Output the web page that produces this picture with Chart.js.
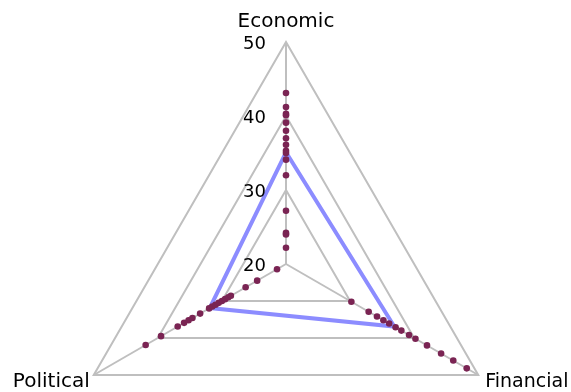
<!DOCTYPE html>
<html>
<head>
<meta charset="utf-8">
<script src="https://cdn.jsdelivr.net/npm/chart.js@4"></script>
<style>
  html, body { margin: 0; padding: 0; background: #fff; }
  canvas { display: block; }
</style>
</head>
<body>
<canvas id="grafico" width="571" height="392"></canvas>
<script>
const categories = ["Economic", "Financial", "Political"];
const tickValues = [20, 30, 40, 50];

// blue outline
const averageValues = [35.1, 36.9, 31.9];

// dots on each axis
const economicDots = [43.1, 41.2, 40.1, 40.3, 39.1, 38.0, 37.0, 36.1, 35.0, 35.3, 34.1, 32.0, 27.2, 24.0, 24.2, 22.2];
const financialDots = [30.2, 32.9, 34.2, 35.2, 36.1, 37.1, 38.0, 39.2, 40.2, 42.0, 44.2, 46.1, 48.2];
const politicalDots = [21.4, 24.5, 26.3, 28.6, 29.0, 29.5, 30.0, 30.5, 31.0, 31.5, 32.0, 33.4, 34.6, 35.2, 35.9, 36.9, 39.5, 41.9];

const n = Math.max(economicDots.length, financialDots.length, politicalDots.length);
const dotSets = [];
for (let i = 0; i < n; i++) {
  dotSets.push({
    data: [economicDots[i] ?? null, financialDots[i] ?? null, politicalDots[i] ?? null],
    showLine: false,
    borderWidth: 0,
    borderColor: "transparent",
    backgroundColor: "transparent",
    pointRadius: 3.3,
    pointBorderWidth: 0,
    pointBackgroundColor: "#7a2453",
    order: 0
  });
}

const textPlugin = {
  id: "textos",
  afterDraw(chart) {
    const scale = chart.scales.r;
    const ctx = chart.ctx;
    ctx.save();
    ctx.fillStyle = "#000";

    // tick labels, left of the vertical axis
    ctx.font = '18px "DejaVu Sans"';
    ctx.textAlign = "right";
    ctx.textBaseline = "middle";
    tickValues.forEach(v => {
      const d = scale.getDistanceFromCenterForValue(v);
      ctx.fillText(String(v), scale.xCenter - 20, scale.yCenter - d + 2);
    });

    // category labels at the corners
    ctx.textBaseline = "alphabetic";
    const offs = [[0, -15, "center", 20], [7, 12, "left", 19], [-4, 12, "right", 20]];
    categories.forEach((c, i) => {
      const p = scale.getPointPosition(i, scale.drawingArea);
      ctx.font = offs[i][3] + 'px "DejaVu Sans"';
      ctx.textAlign = offs[i][2];
      ctx.fillText(c, p.x + offs[i][0], p.y + offs[i][1]);
    });
    ctx.restore();
  }
};

new Chart(document.getElementById("grafico"), {
  type: "radar",
  data: {
    labels: categories,
    datasets: [
      ...dotSets,
      {
        data: averageValues,
        borderColor: "#8c8cff",
        borderWidth: 4,
        backgroundColor: "transparent",
        fill: false,
        pointRadius: 0,
        order: 5
      }
    ]
  },
  options: {
    responsive: false,
    devicePixelRatio: 1,
    animation: false,
    plugins: { legend: { display: false }, tooltip: { enabled: false } },
    scales: {
      r: {
        min: 20,
        max: 50,
        afterBuildTicks: s => { s.ticks = tickValues.map(v => ({ value: v })); },
        // place the triangle like the original: centre (286,264), radius 222
        afterFit: s => { s.xCenter = 286; s.yCenter = 264; s.drawingArea = 222; },
        ticks: { display: false, stepSize: 10 },
        pointLabels: { display: false },
        grid: { color: "#bfbfbf", lineWidth: 2 },
        angleLines: { color: "#bfbfbf", lineWidth: 2 }
      }
    }
  },
  plugins: [textPlugin]
});
</script>
</body>
</html>
